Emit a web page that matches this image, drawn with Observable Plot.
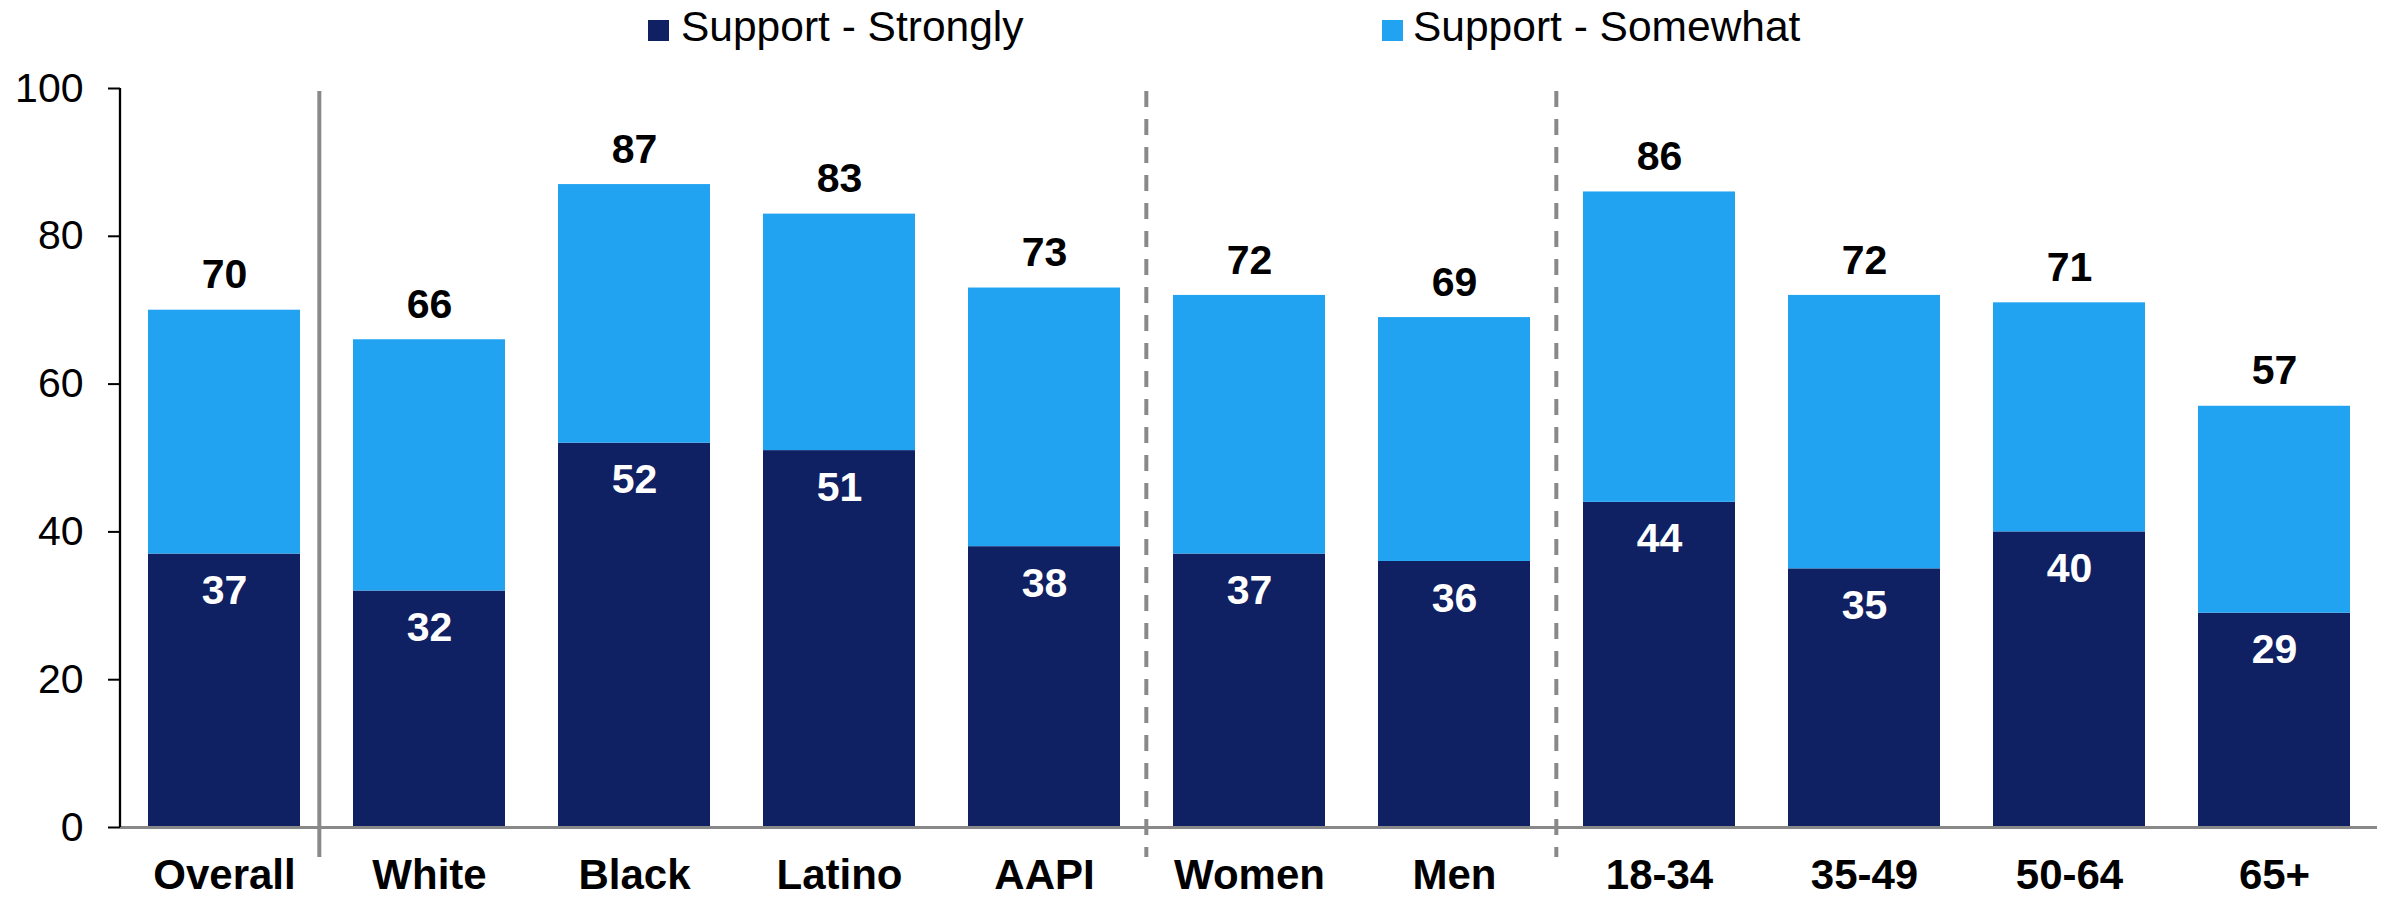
<!DOCTYPE html>
<html>
<head>
<meta charset="utf-8">
<script src="https://cdn.jsdelivr.net/npm/d3@7"></script>
<script src="https://cdn.jsdelivr.net/npm/@observablehq/plot@0.6"></script>
<style>
  html, body { margin: 0; padding: 0; background: #fff; }
  body { width: 2387px; height: 897px; overflow: hidden; font-family: "Liberation Sans", Arial, sans-serif; }
  #legend { position: relative; height: 60px; width: 2387px; }
  .sw { position: absolute; top: 20px; width: 21px; height: 21px; }
  .lab { position: absolute; top: 3px; font-size: 42.5px; line-height: 48px; color: #000; white-space: nowrap; }
</style>
</head>
<body>
<div id="legend"></div>
<div id="chart"></div>
<script>
const categories = ["Overall", "White", "Black", "Latino", "AAPI", "Women", "Men", "18-34", "35-49", "50-64", "65+"];
const strongly = [37, 32, 52, 51, 38, 37, 36, 44, 35, 40, 29];
const somewhat = [33, 34, 35, 32, 35, 35, 33, 42, 37, 31, 28];
const totals   = [70, 66, 87, 83, 73, 72, 69, 86, 72, 71, 57];
const seriesNames = ["Support - Strongly", "Support - Somewhat"];
const seriesColors = ["#0f2063", "#21a3f2"];
const yTicks = [0, 20, 40, 60, 80, 100];
const separatorsBefore = ["White", "Women", "18-34"];
const separatorDashed = [false, true, true];

// legend
const legend = document.getElementById("legend");
const legendPos = [[648, 681], [1382, 1413]];
seriesNames.forEach((name, i) => {
  const sw = document.createElement("div");
  sw.className = "sw";
  sw.style.left = legendPos[i][0] + "px";
  sw.style.background = seriesColors[i];
  legend.appendChild(sw);
  const lab = document.createElement("div");
  lab.className = "lab";
  lab.style.left = legendPos[i][1] + "px";
  lab.textContent = name;
  legend.appendChild(lab);
});

const rows = [];
categories.forEach((c, i) => {
  rows.push({cat: c, series: seriesNames[0], value: strongly[i]});
  rows.push({cat: c, series: seriesNames[1], value: somewhat[i]});
});
const labelRows = categories.map((c, i) => ({cat: c, strong: strongly[i], total: totals[i]}));

const padInner = 0.26;

function separators(index, scales, values, dimensions) {
  const step = (dimensions.width - dimensions.marginLeft - dimensions.marginRight) / categories.length;
  const g = d3.create("svg:g");
  separatorsBefore.forEach((c, i) => {
    const x = scales.x(c) - step * padInner / 2 + (separatorDashed[i] ? 0 : -7);
    g.append("line")
      .attr("x1", x).attr("x2", x)
      .attr("y1", scales.y(100) + 3).attr("y2", scales.y(0) + 30)
      .attr("stroke", "#898989")
      .attr("stroke-width", 4)
      .attr("stroke-dasharray", separatorDashed[i] ? "16,12" : null);
  });
  return g.node();
}

function yAxisLine(index, scales, values, dimensions) {
  const x = dimensions.marginLeft;
  return d3.create("svg:line")
    .attr("x1", x).attr("x2", x)
    .attr("y1", scales.y(100)).attr("y2", scales.y(0))
    .attr("stroke", "#000").attr("stroke-width", 2.3).node();
}

const chart = Plot.plot({
  width: 2387,
  height: 837,
  marginLeft: 120,
  marginRight: 10,
  marginTop: 28,
  marginBottom: 70,
  style: {fontFamily: "Liberation Sans, Arial, sans-serif", background: "#fff", color: "#000"},
  x: {domain: categories, paddingInner: padInner, paddingOuter: padInner / 2, axis: null, label: null},
  y: {domain: [0, 100], axis: null, label: null},
  color: {domain: seriesNames, range: seriesColors},
  marks: [
    Plot.barY(rows, {x: "cat", y: "value", fill: "series", order: seriesNames}),
    Plot.ruleY([0], {stroke: "#898989", strokeWidth: 3}),
    separators,
    yAxisLine,
    Plot.axisY({ticks: yTicks, tickSize: 12, tickPadding: 25, fontSize: 41, stroke: "#000", strokeWidth: 2, fill: "#000", tickFormat: d => d, label: null}),
    Plot.axisX({tickSize: 0, tickPadding: 32, fontSize: 42, fontWeight: "bold", fill: "#000", label: null}),
    Plot.text(labelRows, {x: "cat", y: "strong", text: d => String(d.strong), dy: 37, fill: "#fff", fontSize: 41, fontWeight: "bold", lineAnchor: "middle"}),
    Plot.text(labelRows, {x: "cat", y: "total", text: d => String(d.total), dy: -35, fill: "#000", fontSize: 41, fontWeight: "bold", lineAnchor: "middle"})
  ]
});
document.getElementById("chart").appendChild(chart);
</script>
</body>
</html>
